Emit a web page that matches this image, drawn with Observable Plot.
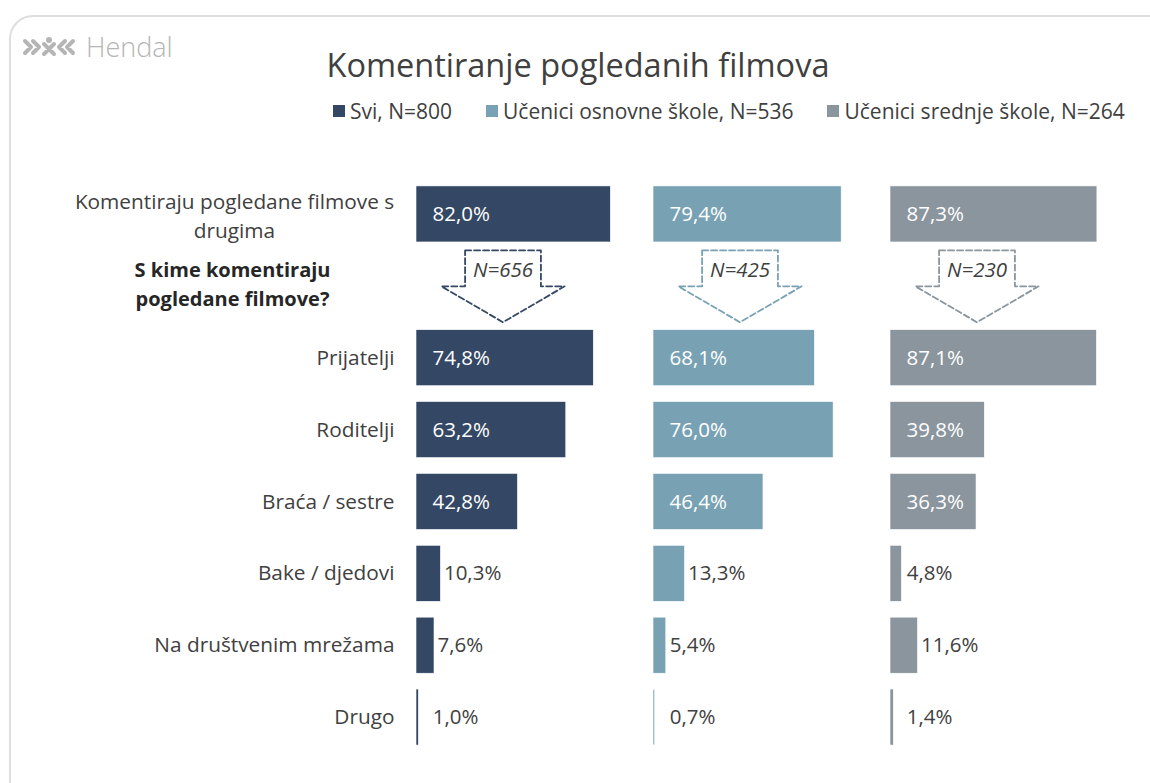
<!DOCTYPE html>
<html><head><meta charset="utf-8">
<script src="https://cdn.jsdelivr.net/npm/d3@7"></script>
<script src="https://cdn.jsdelivr.net/npm/@observablehq/plot@0.6"></script>
<style>
body{margin:0;background:#fff;font-family:"Open Sans",sans-serif;}
#wrap{position:relative;width:1150px;height:783px;overflow:hidden;}
#frame{position:absolute;left:9px;top:15px;width:1170px;height:800px;border:2px solid #dedede;border-radius:24px;box-sizing:border-box;}
#logo{position:absolute;left:22px;top:28px;display:flex;align-items:center;gap:10px;color:#b5b5b5;font-size:27px;font-weight:300;}
#title{position:absolute;left:0;top:42px;width:1156px;text-align:center;font-size:32.5px;color:#404040;}
#legend{position:absolute;top:97px;left:333px;display:flex;gap:34px;font-size:21px;color:#404040;}
#legend span.i{display:flex;align-items:center;gap:5px;}
#legend span.sw{display:inline-block;width:12px;height:12px;}
#chart{position:absolute;left:0;top:150px;}
</style></head>
<body><div id="wrap">
<div id="frame"></div>
<div id="logo"><svg width="54" height="22" viewBox="0 0 54 22"><g fill="none" stroke="#b5b5b5" stroke-width="4" stroke-linecap="round" stroke-linejoin="round"><path d="M3 5l6 6-6 6M11 5l6 6-6 6M22 8l10 10M32 8l-10 10M51 5l-6 6 6 6M43 5l-6 6 6 6"/></g><circle cx="27" cy="4" r="3" fill="#b5b5b5"/></svg><span>Hendal</span></div>
<div id="title">Komentiranje pogledanih filmova</div>
<div id="legend"></div>
<div id="chart"></div>
</div>
<script>
const rowLabels = ["Komentiraju pogledane filmove s\ndrugima", "S kime komentiraju\npogledane filmove?", "Prijatelji", "Roditelji", "Braća / sestre", "Bake / djedovi", "Na društvenim mrežama", "Drugo"];
const groups = ["Svi, N=800", "Učenici osnovne škole, N=536", "Učenici srednje škole, N=264"];
const sviValues = [82.0, null, 74.8, 63.2, 42.8, 10.3, 7.6, 1.0];
const osnovneValues = [79.4, null, 68.1, 76.0, 46.4, 13.3, 5.4, 0.7];
const srednjeValues = [87.3, null, 87.1, 39.8, 36.3, 4.8, 11.6, 1.4];
const subN = [656, 425, 230];
const colors = ["#344866", "#78a2b4", "#8a959d"];

const questionRow = 1;
const seriesValues = [sviValues, osnovneValues, srednjeValues];
const data = [];
seriesValues.forEach((vals, g) => vals.forEach((v, r) => {
  if (v != null) data.push({group: groups[g], row: r, value: v});
}));
const labelRows = rowLabels.map((label, r) => ({label, row: r}));

// dashed arrow outline (relative shape: percent offset, row offset)
const arrowShape = [[-16,-0.5],[16,-0.5],[16,0],[26,0],[0,0.5],[-26,0],[-16,0],[-16,-0.5]];
const arrowCenter = 36.5;
const arrowPts = [];
groups.forEach((g, i) => arrowShape.forEach(([dx, dy]) => arrowPts.push({group: g, x: arrowCenter + dx, y: questionRow + dy})));
const arrowLabels = groups.map((g, i) => ({group: g, label: "N=" + subN[i]}));

const fmt = v => v.toFixed(1).replace(".", ",") + "%";
const inside = d => d.value >= 30;

// legend
const leg = document.getElementById("legend");
groups.forEach((g, i) => {
  const s = document.createElement("span"); s.className = "i";
  s.innerHTML = `<span class="sw" style="background:${colors[i]}"></span>${g}`;
  leg.appendChild(s);
});

const H = 620;
const plot = Plot.plot({
  width: 1150, height: H,
  marginLeft: 415, marginRight: 22.5, marginTop: 28, marginBottom: H - 603,
  style: {fontFamily: "'Open Sans', sans-serif", background: "transparent"},
  fx: {domain: groups, padding: 0, axis: null},
  x: {domain: [0, 100], axis: null},
  y: {domain: [-0.5, 7.5], reverse: true, axis: null},
  color: {domain: groups, range: colors},
  marks: [
    Plot.rectX(data, {fx: "group", x1: 0, x2: "value", y1: d => d.row - 0.39, y2: d => d.row + 0.39, fill: "group", stroke: "white", strokeWidth: 0.6}),
    Plot.text(data.filter(inside), {fx: "group", x: 0, y: "row", text: d => fmt(d.value), textAnchor: "start", dx: 16, fill: "white", fontSize: 20.5}),
    Plot.text(data.filter(d => !inside(d)), {fx: "group", x: d => Math.max(d.value, 5.6), y: "row", text: d => fmt(d.value), textAnchor: "start", dx: 3, fill: "#404040", fontSize: 20.5}),
    Plot.line(arrowPts, {fx: "group", x: "x", y: "y", z: "group", stroke: "group", strokeWidth: 1.8, strokeDasharray: "6,3"}),
    Plot.text(arrowLabels, {fx: "group", x: arrowCenter, y: questionRow, dy: -16, text: "label", fontStyle: "italic", fill: "#404040", fontSize: 20.5}),
    Plot.text(labelRows.filter(d => d.label.includes("\n") === false), {fx: () => groups[0], x: 0, y: "row", text: "label", textAnchor: "end", dx: -22, fill: "#404040", fontSize: 20.8}),
    Plot.text(labelRows.filter(d => d.row === 0), {fx: () => groups[0], x: 0, y: "row", text: "label", textAnchor: "middle", dx: -182, lineHeight: 1.4, fill: "#404040", fontSize: 20.8}),
    Plot.text(labelRows.filter(d => d.row === questionRow), {fx: () => groups[0], x: 0, y: "row", dy: -4, text: "label", textAnchor: "middle", dx: -184, lineHeight: 1.45, fill: "#262626", fontWeight: "bold", fontSize: 20})
  ]
});
document.getElementById("chart").appendChild(plot);
</script>
</body></html>
